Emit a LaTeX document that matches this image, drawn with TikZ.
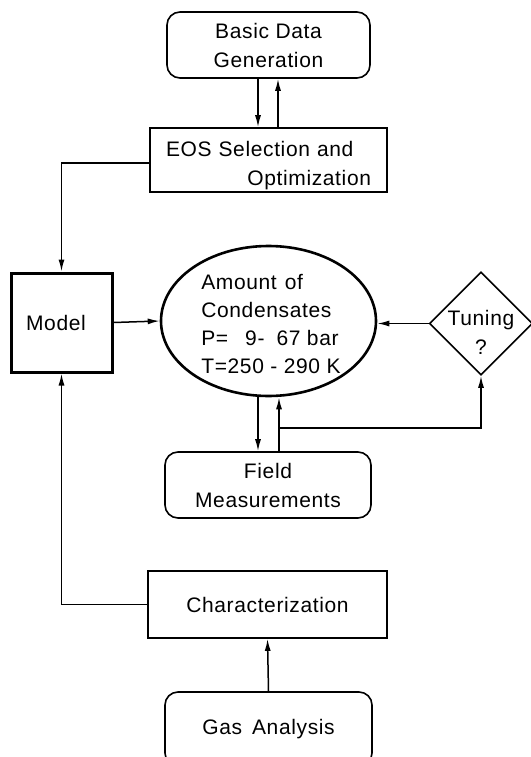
\documentclass[tikz,border=0pt]{standalone}
\usepackage{fontspec}
\setmainfont[LetterSpace=3]{Liberation Sans}
\usetikzlibrary{shapes.geometric,arrows.meta}
\begin{document}
\begin{tikzpicture}[x=1pt,y=-1pt,
  every node/.style={font=\fontsize{21}{29}\selectfont},
  box/.style={draw,line width=1.6pt,inner sep=0pt},
  rbox/.style={box,rounded corners=13pt},
  txt/.style={inner sep=0pt},
  arr/.style={line width=1.5pt,-{Latex[length=12pt,width=6pt]}}]
\useasboundingbox (0,0) rectangle (530,757);
\fill[white] (0,0) rectangle (530,757);
% nodes
\node[rbox,minimum width=203,minimum height=66,align=center] (bdg) at (268.5,45) {Basic Data\\Generation};
\node[box,minimum width=237,minimum height=64] (eos) at (268.5,160) {};
\node[txt,text width=205pt,align=left] (eost) at (268.5,166) {EOS Selection and\\\hspace*{\fill}Optimization};
\node[box,line width=3pt,minimum width=101,minimum height=99] (mod) at (61.5,322.5) {};
\node[txt] (modt) at (56,323) {Model};
\node[draw,ellipse,line width=2.6pt,minimum width=215,minimum height=150,inner sep=0pt] (ell) at (268.5,321) {};
\node[txt,align=left,font=\fontsize{21}{28}\selectfont] (ellt) at (271,324) {Amount\hspace{8pt}of\\Condensates\\P=\hspace{17pt}9-\hspace{12pt}67 bar\\T=250 - 290 K};
\node[draw,diamond,line width=1.6pt,minimum width=103,minimum height=103,inner sep=0pt] (tun) at (481,323.5) {};
\node[txt,align=center] (tunt) at (481,332) {Tuning\\?};
\node[rbox,minimum width=206,minimum height=66,align=center] (fld) at (268,485) {Field\\Measurements};
\node[box,minimum width=239,minimum height=67] (chr) at (267.5,604.5) {Characterization};
\node[rbox,minimum width=207,minimum height=74] (gas) at (268.5,729) {Gas\hspace{10pt}Analysis};
\coordinate (brk) at (279,428);
% connectors
\draw[arr] ([xshift=-10.5pt]bdg.south) -- ([xshift=-10.5pt]eos.north);
\draw[arr] ([xshift=9.5pt]eos.north) -- ([xshift=9.5pt]bdg.south);
\draw[arr] ([yshift=-3pt]eos.west) -| (mod.north);
\draw[arr] (mod.east) -- (ell.west);
\draw[arr] (tun.west) -- (tun.west -| ell.east);
\draw[arr] ([xshift=-10.5pt]ell.south) -- ([xshift=-10pt]fld.north);
\draw[arr] ([xshift=11pt]fld.north) -- ([xshift=10.5pt]ell.south);
\draw[arr] (brk) -| (tun.south);
\draw[arr] (chr.west) -| (mod.south);
\draw[arr] (gas.north) -- (chr.south);
\end{tikzpicture}
\end{document}
